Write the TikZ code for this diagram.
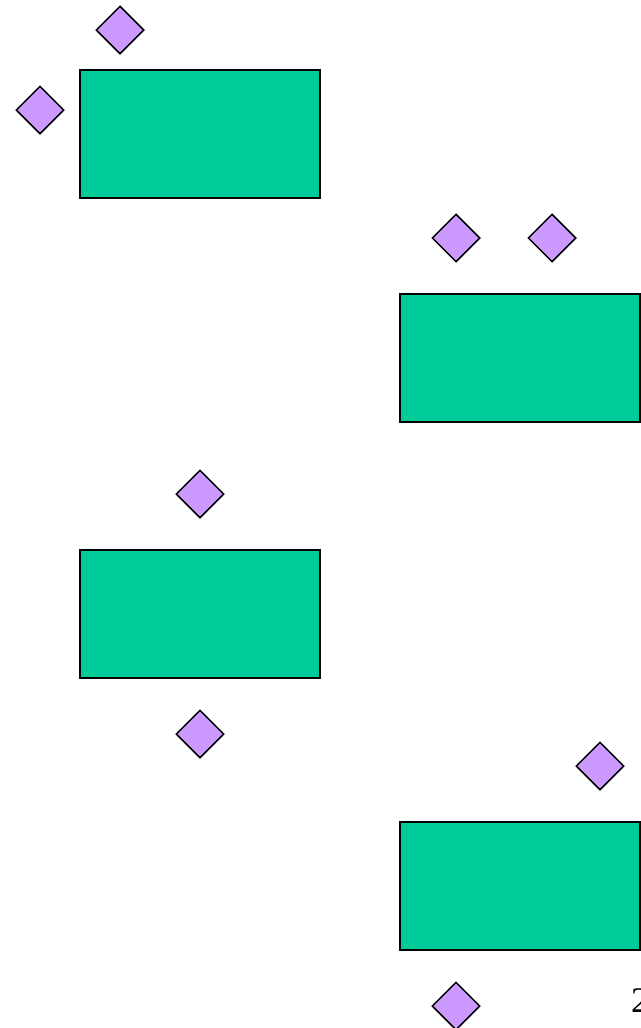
\documentclass[tikz,border=0pt]{standalone}
\usepackage{fontspec}
\setmainfont{Liberation Serif}
\definecolor{teal1}{HTML}{00CC99}
\definecolor{lilac}{HTML}{CC99FF}
\usetikzlibrary{positioning,shapes.geometric}
\tikzset{
  box/.style={draw=black,line width=2pt,fill=teal1,minimum width=240pt,minimum height=128pt,inner sep=0pt},
  gem/.style={diamond,draw=black,line width=1.5pt,fill=lilac,minimum width=48pt,minimum height=48pt,inner sep=0pt,aspect=1},
}
\begin{document}
\begin{tikzpicture}[x=1pt,y=-1pt]
\useasboundingbox (0,0) rectangle (640,1028);
\node[box] (b1) at (200,134) {};
\node[box] (b2) at (520,358) {};
\node[box] (b3) at (200,614) {};
\node[box] (b4) at (520,886) {};
\node[gem] (d1) at (120,30) {};
\node[gem] (d2) at (40,110) {};
\node[gem] (d3) at (456,238) {};
\node[gem] (d4) at (552,238) {};
\node[gem] (d5) at (200,494) {};
\node[gem] (d6) at (200,734) {};
\node[gem] (d7) at (600,766) {};
\node[gem] (d8) at (456,1006) {};
\node[anchor=base west,inner sep=0pt,font=\fontsize{36}{40}\selectfont] (pg) at (631,1012) {2};
\end{tikzpicture}
\end{document}
